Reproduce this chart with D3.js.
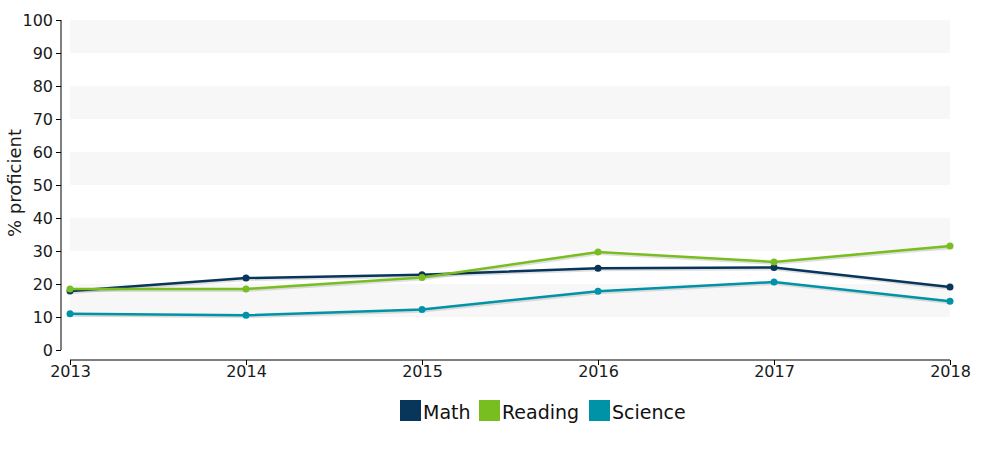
<!DOCTYPE html>
<html><head><meta charset="utf-8">
<script src="https://cdn.jsdelivr.net/npm/d3@7"></script>
<style>body{margin:0;background:#fff;} text{font-family:"DejaVu Sans",Verdana,sans-serif;}</style>
</head><body><svg id="c" width="1000" height="450"></svg>
<script>
const years = [2013, 2014, 2015, 2016, 2017, 2018];
const math = [17.9, 21.8, 22.8, 24.8, 25.0, 19.1];
const reading = [18.5, 18.5, 22.0, 29.7, 26.7, 31.5];
const science = [11.0, 10.5, 12.3, 17.8, 20.6, 14.8];
const yTicks = [0, 10, 20, 30, 40, 50, 60, 70, 80, 90, 100];
const seriesNames = ["Math", "Reading", "Science"];
const colors = ["#08355a", "#78be20", "#0093a8"];

const series = [math, reading, science];
const svg = d3.select("#c");
const x = d3.scaleLinear().domain([2013, 2018]).range([70, 950]);
const y = d3.scaleLinear().domain([0, 100]).range([350, 20]);

// bands
const bands = [[10,20],[30,40],[50,60],[70,80],[90,100]];
svg.append("g").selectAll("rect").data(bands).join("rect")
  .attr("x", x(2013)).attr("width", x(2018) - x(2013))
  .attr("y", d => y(d[1])).attr("height", d => y(d[0]) - y(d[1]))
  .attr("fill", "#f7f7f7");

// y axis
const ya = svg.append("g").attr("transform", "translate(61,0)")
  .call(d3.axisLeft(y).tickValues(yTicks).tickSize(5).tickPadding(3).tickFormat(d3.format("d")));
ya.selectAll("text").attr("font-size", 16).attr("fill", "#1a1a1a").style("font-family", "DejaVu Sans");
ya.selectAll("line,path").attr("stroke", "#000");
ya.select("path").attr("d", "M0,20V350");

// x axis
const xa = svg.append("g").attr("transform", "translate(0,360)")
  .call(d3.axisBottom(x).tickValues(years).tickSize(5).tickPadding(1).tickFormat(d3.format("d")));
xa.selectAll("text").attr("font-size", 16).attr("fill", "#1a1a1a").style("font-family", "DejaVu Sans");
xa.selectAll("line,path").attr("stroke", "#000");
xa.select("path").attr("d", "M70,0H950");

// y label
svg.append("text").attr("transform", "translate(21,183) rotate(-90)")
  .attr("text-anchor", "middle").attr("font-size", 18).attr("fill", "#1a1a1a").text("% proficient");

const line = d3.line().x((d, i) => x(years[i])).y(d => y(d));
series.forEach((s, k) => {
  const g = svg.append("g");
  g.append("path").datum(s).attr("d", line).attr("fill", "none")
    .attr("stroke", "#000").attr("stroke-opacity", 0.12).attr("stroke-width", 3)
    .attr("transform", "translate(1,1.5)");
  g.append("path").datum(s).attr("d", line).attr("fill", "none")
    .attr("stroke", colors[k]).attr("stroke-width", 2.5);
  g.selectAll("circle").data(s).join("circle")
    .attr("cx", (d, i) => x(years[i])).attr("cy", d => y(d)).attr("r", 3.5)
    .attr("fill", colors[k]);
});

// legend
const legX = [400, 479, 589];
const lg = svg.append("g");
seriesNames.forEach((n, k) => {
  lg.append("rect").attr("x", legX[k]).attr("y", 400).attr("width", 21).attr("height", 21)
    .attr("fill", colors[k]);
  lg.append("text").attr("x", legX[k] + 23).attr("y", 419).attr("font-size", 19)
    .attr("fill", "#111").text(n);
});
</script></body></html>
